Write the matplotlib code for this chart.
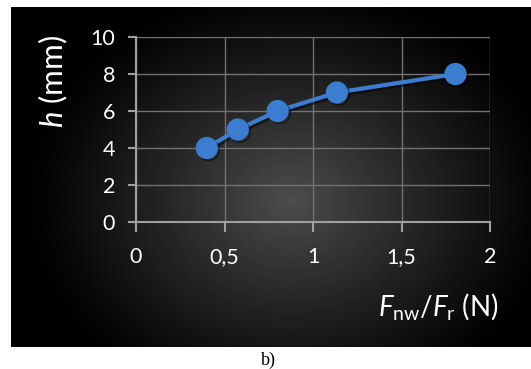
import numpy as np
import matplotlib
matplotlib.use("Agg")
import matplotlib.pyplot as plt
import matplotlib.patheffects as pe

plt.rcParams['font.family'] = 'Lato'
plt.rcParams['mathtext.fontset'] = 'custom'
plt.rcParams['mathtext.rm'] = 'Lato'
plt.rcParams['mathtext.it'] = 'Lato:italic'

# data
force_ratio = [0.40, 0.575, 0.80, 1.135, 1.805]
height_mm = [4, 5, 6, 7, 8]
x_ticks = [0, 0.5, 1, 1.5, 2]
x_tick_labels = ["0", "0,5", "1", "1,5", "2"]
y_ticks = [0, 2, 4, 6, 8, 10]

W, H = 531, 369
fig = plt.figure(figsize=(W / 100, H / 100), dpi=100)
fig.patch.set_facecolor('white')

# dark radial-gradient panel (Excel style)
px0, py0, px1, py1 = 11, 7, 531, 347
bg = fig.add_axes([px0 / W, 1 - py1 / H, (px1 - px0) / W, (py1 - py0) / H])
yy, xx = np.mgrid[py0:py1, px0:px1]
r = np.sqrt(((xx - 290) / 265.0) ** 2 + ((yy - 200) / 215.0) ** 2)
shade = np.clip(1 - r, 0, 1) ** 1.1 * 0.30
bg.imshow(shade, cmap='gray', vmin=0, vmax=1, aspect='auto', interpolation='bilinear')
bg.axis('off')

ax = fig.add_axes([136 / W, 1 - 222 / H, (490 - 136) / W, (222 - 37) / H])
ax.patch.set_alpha(0)
ax.set_xlim(0, 2)
ax.set_ylim(0, 10)
ax.set_xticks(x_ticks)
ax.set_xticklabels(x_tick_labels)
ax.set_yticks(y_ticks)
ax.grid(True, color='#727272', lw=1)
ax.set_axisbelow(True)
for s in ['top', 'right']:
    ax.spines[s].set_visible(False)
for s in ['left', 'bottom']:
    ax.spines[s].set_color('#a0a0a0')
    ax.spines[s].set_linewidth(1.5)
ax.tick_params(axis='both', colors='#a0a0a0', width=1.5, labelcolor='white', labelsize=15.5)
ax.tick_params(axis='y', length=6, pad=9)
ax.tick_params(axis='x', length=7, pad=11)

ax.plot(force_ratio, height_mm, color='#3b7dd0', lw=3, marker='o', ms=15,
        mec='#3b7dd0', mfc='#3b7dd0', clip_on=False,
        path_effects=[pe.SimpleLineShadow(offset=(1.5, -1.5), alpha=0.5), pe.Normal()])

fig.text(53 / W, 1 - 81 / H, r'$\mathit{h}$ (mm)', rotation=90, color='white',
         fontsize=22.5, ha='center', va='center')
fig.text(498 / W, 1 - 306 / H, r'$\mathit{F}_{\mathrm{nw}}/\mathit{F}_{\mathrm{r}}$ (N)',
         color='white', fontsize=20, ha='right', va='center')
fig.text(268 / W, 1 - 360 / H, 'b)', family='Liberation Serif', fontsize=13,
         ha='center', va='center', color='black')

fig.savefig('out.png', dpi=100)
